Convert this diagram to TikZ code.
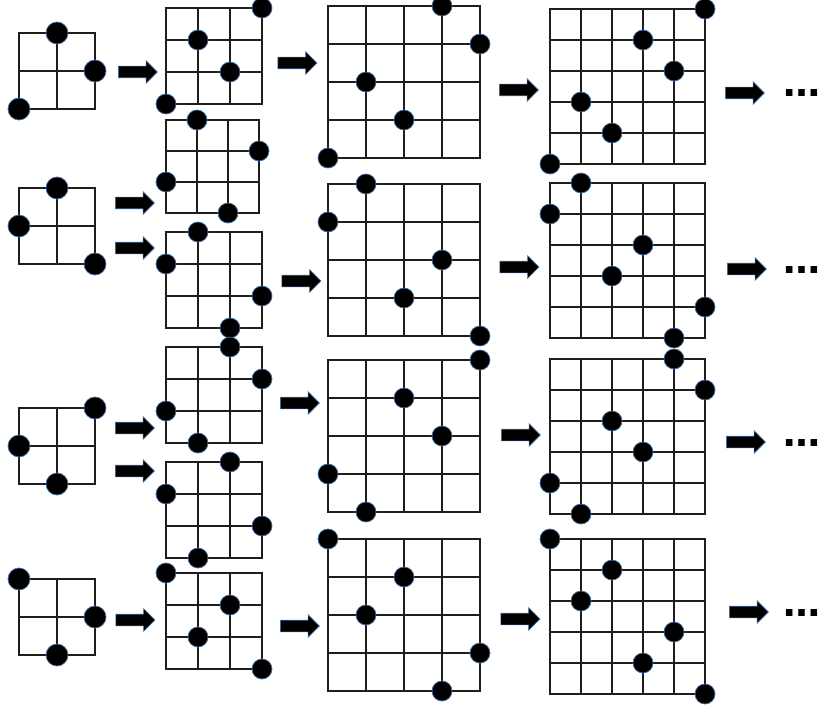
\documentclass[tikz,border=0pt]{standalone}
\usepackage{fontspec}
\newfontfamily\dotsfont{DejaVu Sans}
\usetikzlibrary{shapes.arrows}
\definecolor{gridcolor}{RGB}{30,30,30}
\definecolor{dotedge}{RGB}{70,110,160}
\tikzset{
    gridline/.style={draw=gridcolor, line width=1.8pt, line cap=rect},
    dot/.style={fill=black, draw=dotedge, line width=0.7pt},
    fatarrow/.style={single arrow, fill=black, draw=dotedge, line width=0.6pt,
        minimum height=39pt, inner xsep=0pt, inner ysep=5.5pt,
        single arrow head extend=5.5pt, single arrow head indent=0pt},
    more/.style={font=\dotsfont\bfseries\fontsize{37}{37}\selectfont,
        anchor=base west, inner sep=0pt}
}
% [radius] {top left corner} {points} {cell size} {height of each column}
\newcommand{\permgrid}[5][10]{%
  \begin{scope}[shift={#2}]
    \pgfmathtruncatemacro{\nlast}{#3-1}
    \foreach \k in {0,...,\nlast}{
      \draw[gridline] (\k*#4,0) -- (\k*#4,\nlast*#4);
      \draw[gridline] (0,\k*#4) -- (\nlast*#4,\k*#4);
    }
    \foreach \h [count=\i from 0] in {#5}
      \filldraw[dot] (\i*#4,{(\nlast-\h)*#4}) circle[radius=#1pt];
  \end{scope}}

\begin{document}
\begin{tikzpicture}[x=1pt, y=-1pt]
    \useasboundingbox (0,0) rectangle (820,706);

    % size 3
    \permgrid[11]{(19,33)}{3}{38}{0,2,1}
    \permgrid[11]{(19,188)}{3}{38}{1,2,0}
    \permgrid[11]{(19,408)}{3}{38}{1,0,2}
    \permgrid[11]{(19,579)}{3}{38}{2,0,1}

    % size 4
    \permgrid{(166,8)}{4}{32}{0,2,1,3}
    \permgrid{(166,120)}{4}{31}{1,3,0,2}
    \permgrid{(166,232)}{4}{32}{2,3,0,1}
    \permgrid{(166,347)}{4}{32}{1,0,3,2}
    \permgrid{(166,462)}{4}{32}{2,0,3,1}
    \permgrid{(166,573)}{4}{32}{3,1,2,0}

    % size 5
    \permgrid{(328,6)}{5}{38}{0,2,1,4,3}
    \permgrid{(328,184)}{5}{38}{3,4,1,2,0}
    \permgrid{(328,360)}{5}{38}{1,0,3,2,4}
    \permgrid{(328,539)}{5}{38}{4,2,3,0,1}

    % size 6
    \permgrid{(550,9)}{6}{31}{0,2,1,4,3,5}
    \permgrid{(550,183)}{6}{31}{4,5,2,3,0,1}
    \permgrid{(550,359)}{6}{31}{1,0,3,2,5,4}
    \permgrid{(550,539)}{6}{31}{5,3,4,1,2,0}

    % arrows
    \node[fatarrow] (a1) at (135,72) {};
    \node[fatarrow] (b1) at (294.5,63) {};
    \node[fatarrow] (c1) at (516,90) {};
    \node[fatarrow] (d1) at (742,93) {};

    \node[fatarrow] (a2) at (132,203) {};
    \node[fatarrow] (a2b) at (132,248) {};
    \node[fatarrow] (b2) at (298.5,281) {};
    \node[fatarrow] (c2) at (516.5,267) {};
    \node[fatarrow] (d2) at (744,269) {};

    \node[fatarrow] (a3) at (132,428) {};
    \node[fatarrow] (a3b) at (132,471) {};
    \node[fatarrow] (b3) at (297,403) {};
    \node[fatarrow] (c3) at (518,435) {};
    \node[fatarrow] (d3) at (743,442) {};

    \node[fatarrow] (a4) at (132.5,620) {};
    \node[fatarrow] (b4) at (297,626) {};
    \node[fatarrow] (c4) at (517.5,619) {};
    \node[fatarrow] (d4) at (746,612) {};

    % continuation
    \node[more] (m1) at (783,97) {…};
    \node[more] (m2) at (783,273) {…};
    \node[more] (m3) at (783,446) {…};
    \node[more] (m4) at (783,616) {…};
\end{tikzpicture}
\end{document}
